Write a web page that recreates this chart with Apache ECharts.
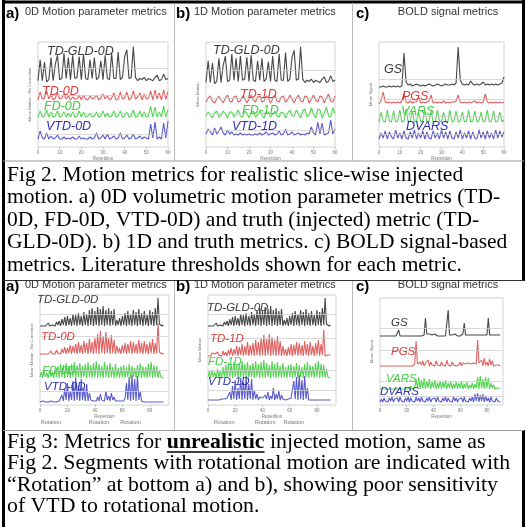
<!DOCTYPE html>
<html><head><meta charset="utf-8">
<script src="https://cdn.jsdelivr.net/npm/echarts@6/dist/echarts.min.js"></script>
<style>html,body{margin:0;padding:0;background:#fff}#c{width:527px;height:527px}</style>
</head><body><div id="c"></div><script>
// ---------- tick labels ----------
const X_TICKS_F2 = [0,10,20,30,40,50,60];
const X_TICKS_F3 = [0,20,40,60,80];
// ---------- Fig 2 (realistic motion), repetitions 0..60 ----------
const F2_TD_GLD_0D = [3,22,3,20,2,4,24,3,18,26,4,5,28,5,24,4,26,5,6,25,4,27,5,4,22,5,24,4,6,21,4,26,5,4,28,5,5,29,4,6,25,31,5,6,34,6,3,5,4,6,3,5,4,3,6,8,3,4,9,4,5];
const F2_TD_0D  = [1,9,2,3,10,2,6,1,3,8,2,3,7,2,5,1,4,2,2,6,1,6,2,1,5,2,3,6,1,3,7,2,5,1,3,8,1,2,9,2,3,9,1,3,10,2,4,8,1,7,2,3,10,1,11,2,8,1,11,2,9];
const F2_FD_0D  = [2,8,2,3,9,2,7,2,3,8,2,3,7,2,6,2,7,2,3,8,2,7,2,3,6,2,3,7,2,3,8,2,6,2,3,8,2,3,8,2,3,7,2,3,9,2,3,8,2,7,2,3,13,2,12,2,7,2,13,2,9];
const F2_VTD_0D = [2,10,3,2,8,2,5,2,3,6,2,2,4,2,3,2,4,2,2,5,2,3,2,2,4,2,3,8,2,3,6,2,7,2,3,5,2,3,8,2,3,6,2,3,7,2,3,5,2,4,3,2,17,3,19,2,4,2,18,3,20];
const F2_TD_1D  = [2,6,8,3,1,5,8,4,1,6,9,3,2,7,8,2,3,8,6,1,5,9,4,2,7,8,2,3,8,6,1,5,9,3,2,7,8,2,4,9,5,1,6,9,3,2,8,7,1,5,9,4,2,8,7,1,6,10,3,2,8];
const F2_FD_1D  = [3,7,4,1,6,8,2,4,8,5,1,7,7,2,5,9,3,2,8,6,1,6,8,2,4,8,4,1,7,7,2,5,8,3,2,7,6,1,6,9,3,3,9,5,1,8,10,2,4,11,5,1,10,9,1,6,12,3,2,11,6];
const F2_VTD_1D = [3,8,5,2,9,3,6,10,4,2,7,3,5,2,3,2,4,2,3,2,3,2,2,3,2,4,2,3,5,2,3,4,2,3,6,2,3,8,2,3,5,2,3,4,2,3,2,4,3,10,4,2,15,3,14,2,3,4,17,3,8];
const F2_GS     = [1,1,2,1,1,2,1,2,1,2,1,2,35,6,3,4,2,3,4,3,2,3,2,3,4,3,2,3,4,3,2,3,4,3,3,4,3,5,41,8,4,3,4,3,7,4,3,4,3,4,6,3,4,3,4,3,4,3,4,5,11];
const F2_PGS    = [1,4,13,3,2,3,2,3,2,3,2,4,12,3,2,4,2,3,3,8,2,3,2,3,4,10,2,3,2,3,2,4,2,3,2,3,3,4,10,3,2,3,2,3,2,3,4,2,3,2,3,11,3,2,3,2,3,2,3,2,3];
const F2_VARS   = [2,12,3,2,14,3,2,13,2,3,14,2,3,15,2,3,13,2,3,12,2,3,14,2,3,13,2,2,14,3,2,12,3,2,14,2,3,13,2,3,12,2,3,14,2,3,13,2,3,12,2,3,14,2,3,13,2,3,12,2,4];
const F2_DVARS  = [2,8,3,10,2,9,4,2,11,3,8,2,10,3,2,9,3,11,2,8,3,10,2,9,3,2,10,3,8,2,11,3,9,2,10,3,2,9,3,11,2,8,3,10,2,9,3,2,11,3,9,2,10,3,8,2,11,3,10,4,9];
// ---------- Fig 3 (unrealistic motion), repetitions 0..90 ----------
const F3_TD_GLD_0D = [2,3,2,4,2,3,5,2,4,3,5,2,6,3,7, 2,9,3,11,2,12,3,10,2,14,3,13,2,15,3,12,2,16,3,14, 2,18,3,20,2,17,3,21,2,19,3,22,2,18,3,20,2,17,3,19,2,8,3,10,2, 12,3,15,2,17,3,14,2,18,3,16,2,19,3,15,2,17,3,13,2,18,3,16,2,20,3,30,4,3,2,3];
const F3_TD_0D  = [2,3,2,3,2,4,2,3,5,2,4,2,6,3,5, 2,7,3,9,2,8,3,11,2,10,3,12,2,14,3,11,2,15,3,13, 2,17,3,14,2,18,3,22,2,25,3,20,2,24,3,18,2,21,3,16,2,10,3,8,2, 11,3,13,2,12,3,15,2,14,3,12,2,16,3,13,2,15,3,12,2,14,3,17,2,13,3,33,4,3,2,3];
const F3_FD_0D  = [3,8,2,9,3,7,2,10,3,8,2,12,3,14,2, 16,3,15,2,17,3,14,2,16,3,18,2,15,3,17,2,14,3,16,2, 18,3,15,2,17,3,19,2,16,3,14,2,18,3,15,2,17,3,13,2,16,3,12,2,14, 3,15,2,13,3,16,2,14,3,12,2,15,3,17,2,14,3,13,2,16,3,18,2,15,3,14,2,10,3,4,2];
const F3_VTD_0D = [1,1,2,1,1,2,1,1,2,1,1,2,1,1,2, 2,8,2,14,3,20,2,12,3,22,2,25,3,18,2,24,3,15,2,19, 2,10,3,4,2,3,2,6,2,9,3,5,2,12,3,7,2,10,3,6,2,4,2,3,2, 3,2,5,20,3,26,2,28,3,24,2,27,3,12,2,2,1,2,1,2,1,2,1,2,1,2,1,2,1,2,1];
const F3_TD_1D  = [2,4,2,5,3,4,2,6,3,5,2,7,3,6,2, 8,3,10,2,9,3,12,2,11,3,14,2,12,3,16,2,13,3,15,2, 18,3,16,2,20,3,23,2,19,3,24,2,21,3,18,2,22,3,17,2,12,3,9,2,11, 3,14,2,13,3,16,2,15,3,13,2,17,3,14,2,16,3,12,2,15,3,18,2,14,3,28,2,4,3,2,3];
const F3_FD_1D  = [3,9,2,10,3,8,2,11,3,9,2,13,3,15,2, 17,3,16,2,18,3,15,2,17,3,19,2,16,3,18,2,15,3,17,2, 19,3,16,2,18,3,20,2,17,3,15,2,19,3,16,2,18,3,14,2,17,3,13,2,15, 3,16,2,14,3,17,2,15,3,13,2,16,3,18,2,15,3,14,2,17,3,19,2,16,3,15,2,11,3,5,2];
const F3_VTD_1D = [2,3,2,3,2,4,2,3,2,4,3,2,3,2,4, 3,10,2,16,3,22,2,14,3,24,2,20,3,26,2,18,3,23,2,12, 3,8,2,5,3,4,2,7,3,10,2,6,3,14,2,8,3,11,2,7,3,5,2,4,3, 2,4,6,21,3,25,2,27,3,22,2,26,3,14,2,4,2,3,2,3,2,3,2,3,2,4,2,3,2,3,2];
const F3_GS     = [2,1,2,1,2,1,2,1,2,1,2,1,2,3,8,2,1,2,1,2,1,2,1,2,1,2,1,2,1,2,1,2,2,3,20,4,3,4,2,3,2,4,6,2,3,2,3,2,3,2,4,28,3,2,3,2,4,6,2,3,2,3,4,15,3,2,3,2,3,2,3,2,3,2,3,2,3,2,3,2,3,20,3,2,3,2,3,2,3,2,3];
const F3_PGS    = [2,3,2,3,2,3,2,3,2,3,2,3,2,3,2,3,2,3,2,3,2,3,2,3,2,3,4,27,4,3,6,3,7,2,5,3,8,2,6,3,5,2,7,3,4,2,6,3,5,2,8,3,4,2,6,3,5,2,4,3,6,2,5,3,4,2,5,3,4,2,5,3,4,28,5,3,8,2,10,3,6,2,9,3,7,2,4,3,2,3,2];
const F3_VARS   = [2,3,2,4,2,3,2,4,2,3,2,4,2,3,2,4,2,3,2,4,2,3,2,5,2,4,3,12,3,14,2,11,3,13,2,10,3,12,2,9,3,11,2,8,3,10,2,9,3,11,2,8,3,10,2,7,3,9,2,8,3,10,2,7,3,9,2,6,3,8,2,7,3,14,2,15,3,12,2,14,3,13,2,8,3,6,2,4,3,2,3];
const F3_DVARS  = [2,5,2,6,3,5,2,6,3,7,2,5,3,6,2,7,3,5,2,6,3,7,2,6,3,5,2,7,3,6,2,7,3,5,2,6,3,7,2,5,3,6,2,7,3,5,2,6,3,7,2,6,3,5,2,7,3,6,2,5,3,6,2,7,3,5,2,6,3,7,2,10,3,11,2,9,3,10,2,8,3,6,2,7,3,5,2,6,3,5,2];
// rotation segments (repetition at label centre)
const ROT_A = [8,43,66];
const ROT_B = [12,42,63];
// ---------- texts ----------
const PANEL_LETTERS = ['a)','b)','c)'];
const PANEL_TITLES = ['0D Motion parameter metrics','1D Motion parameter metrics','BOLD signal metrics'];
const Y_NAMES = ['Mean Motion - No Correction','Mean Motion','Mean Signal'];
const CAP2 = ['Fig 2. Motion metrics for realistic slice-wise injected',
 'motion. a) 0D volumetric motion parameter metrics (TD-',
 '0D, FD-0D, VTD-0D) and truth (injected) metric (TD-',
 'GLD-0D). b) 1D and truth metrics. c) BOLD signal-based',
 'metrics. Literature thresholds shown for each metric.'];
const CAP3_FIRST = ['Fig 3: Metrics for ','unrealistic',' injected motion, same as'];
const CAP3 = ['Fig 2. Segments with rotational motion are indicated with',
 '\u201cRotation\u201d at bottom a) and b), showing poor sensitivity',
 'of VTD to rotational motion.'];

// ---------- layout ----------
const BLK='#474747', RED='#e06060', GRN='#52d452', BLU='#5a5ad0';
const LBLK='#3a3a3a', LRED='#e03a3a', LGRN='#44cc44', LBLU='#2f2fb0';
const PANELS = [
 {l:38,r:168,t:42,b:147,xmax:60,ticks:X_TICKS_F2,yn:0},
 {l:206,r:335,t:42,b:147,xmax:60,ticks:X_TICKS_F2,yn:1},
 {l:379,r:504,t:42,b:147,xmax:60,ticks:X_TICKS_F2,yn:2},
 {l:40,r:169,t:295,b:405,xmax:94,ticks:X_TICKS_F3,yn:0},
 {l:208,r:336,t:295,b:405,xmax:94,ticks:X_TICKS_F3,yn:1},
 {l:380,r:503,t:298,b:405,xmax:92,ticks:X_TICKS_F3,yn:2}
];
const SERIES = [
 {p:0,d:F2_TD_GLD_0D,c:BLK,base:84,k:1.1,thr:14},
 {p:0,d:F2_TD_0D,c:RED,base:101,k:1,thr:6},
 {p:0,d:F2_FD_0D,c:GRN,base:119,k:1,thr:6},
 {p:0,d:F2_VTD_0D,c:BLU,base:141,k:1,thr:7},
 {p:1,d:F2_TD_GLD_0D,c:BLK,base:86,k:1.15,thr:14},
 {p:1,d:F2_TD_1D,c:RED,base:104,k:1,thr:6},
 {p:1,d:F2_FD_1D,c:GRN,base:119,k:1,thr:6},
 {p:1,d:F2_VTD_1D,c:BLU,base:137,k:1,thr:7},
 {p:2,d:F2_GS,c:BLK,base:88,k:1,thr:9},
 {p:2,d:F2_PGS,c:RED,base:105,k:1,thr:6},
 {p:2,d:F2_VARS,c:GRN,base:124,k:1,thr:8},
 {p:2,d:F2_DVARS,c:BLU,base:141,k:1,thr:7},
 {p:3,d:F3_TD_GLD_0D,c:BLK,base:328,k:1,thr:14},
 {p:3,d:F3_TD_0D,c:RED,base:356,k:1,thr:20},
 {p:3,d:F3_FD_0D,c:GRN,base:380,k:1,thr:10},
 {p:3,d:F3_VTD_0D,c:BLU,base:403,k:1,thr:12},
 {p:4,d:F3_TD_GLD_0D,c:BLK,base:328,k:1,thr:14},
 {p:4,d:F3_TD_1D,c:RED,base:358,k:1,thr:20},
 {p:4,d:F3_FD_1D,c:GRN,base:380,k:1,thr:10},
 {p:4,d:F3_VTD_1D,c:BLU,base:402,k:1,thr:12},
 {p:5,d:F3_GS,c:BLK,base:338,k:1,thr:10},
 {p:5,d:F3_PGS,c:RED,base:368,k:1,thr:18},
 {p:5,d:F3_VARS,c:GRN,base:391,k:1,thr:10},
 {p:5,d:F3_DVARS,c:BLU,base:404,k:1,thr:8}
];
const LABELS = [
 ['TD-GLD-0D',47,52,LBLK,12.5],['TD-0D',42,92,LRED,12.5],['FD-0D',44,107,LGRN,12.5],['VTD-0D',46,127,LBLU,12.5],
 ['TD-GLD-0D',213,51,LBLK,12.5],['TD-1D',240,95,LRED,12.5],['FD-1D',242,111,LGRN,12.5],['VTD-1D',232,127,LBLU,12.5],
 ['GS',384,70,LBLK,12.5],['PGS',402,97,LRED,12.5],['VARS',401,112,LGRN,12.5],['DVARS',406,127,LBLU,12.5],
 ['TD-GLD-0D',37,300,LBLK,11.5],['TD-0D',41,337,LRED,11.5],['FD-0D',42,371,LGRN,11.5],['VTD-0D',44,387,LBLU,11.5],
 ['TD-GLD-0D',207,308,LBLK,11.5],['TD-1D',210,339,LRED,11.5],['FD-1D',208,362,LGRN,11.5],['VTD-1D',208,382,LBLU,11.5],
 ['GS',391,323,LBLK,11.5],['PGS',391,352,LRED,11.5],['VARS',386,379,LGRN,11.5],['DVARS',380,392,LBLU,11.5]
];

const chart = echarts.init(document.getElementById('c'), null, {renderer:'canvas', width:527, height:527});
const SANS = '"Liberation Sans", Arial, sans-serif';
const SERIF = '"Liberation Serif", "Times New Roman", serif';

const option = {
 backgroundColor:'#fff',
 animation:false,
 grid: PANELS.map(P=>({left:P.l, top:P.t, width:P.r-P.l, height:P.b-P.t, show:true, borderColor:'#c8c8c8', borderWidth:0.8, backgroundColor:'transparent'})),
 xAxis: PANELS.map((P,i)=>({type:'value', gridIndex:i, min:0, max:P.xmax,
   axisLine:{show:false}, splitLine:{show:false},
   axisTick:{show:true, length:2, lineStyle:{color:'#999',width:0.6}, customValues:P.ticks},
   axisLabel:{fontSize:4.5, color:'#777', margin:3, fontFamily:SANS, customValues:P.ticks},
   name:'Repetition', nameLocation:'middle', nameGap:9, nameTextStyle:{fontSize:4.5,color:'#777',fontFamily:SANS}})),
 yAxis: PANELS.map((P,i)=>({type:'value', gridIndex:i, min:0, max:P.b-P.t,
   axisLine:{show:false}, splitLine:{show:false}, axisTick:{show:false}, axisLabel:{show:false},
   name:Y_NAMES[P.yn], nameLocation:'middle', nameGap:6, nameRotate:90,
   nameTextStyle:{fontSize:4.2,color:'#777',fontFamily:SANS}})),
 series: SERIES.map(s=>{
   const P = PANELS[s.p]; const off = P.b - s.base;
   return {type:'line', xAxisIndex:s.p, yAxisIndex:s.p, silent:true, animation:false,
     data: s.d.map((v,i)=>[i, off + v*s.k]), showSymbol:false, symbol:'none',
     lineStyle:{width:1.1, color:s.c}, itemStyle:{color:s.c}, z:3,
     markLine:{silent:true, symbol:'none', label:{show:false}, animation:false,
       lineStyle:{color:'#cfcfcf', width:0.8, type:'solid'}, data:[{yAxis: off + s.thr*s.k}]}};
 })
};
chart.setOption(option);

// ---------- graphic overlay ----------
const g = [];
const line = (x1,y1,x2,y2,c,w)=>g.push({type:'line', shape:{x1,y1,x2,y2}, style:{stroke:c, lineWidth:w}, z:50, silent:true});
const text = (t,x,y,font,fill,align)=>g.push({type:'text', x, y, z:60, silent:true, style:{text:t, font, fill, align:align||'left', verticalAlign:'middle'}});

// borders & separators
line(3.5,0,3.5,527,'#000',3);
line(2,2,525,2,'#000',3);
line(523.5,0,523.5,281,'#000',3);
line(523.5,430,523.5,527,'#000',3);
line(3,161,524,161,'#999',1);
line(3,280.5,524,280.5,'#333',1);
line(3,430.5,524,430.5,'#999',1);
// panel dividers
[174.5,352.5].forEach(x=>{ line(x,3,x,161,'#bbb',1); line(x,281,x,430,'#bbb',1); });

// panel titles
const LX = [6,176,356];
const TXX = [25,194,null];
[14,287].forEach(y=>{
  for (let i=0;i<3;i++){
    text(PANEL_LETTERS[i], LX[i], y, 'bold 15px '+SANS, '#000');
    if (i<2) text(PANEL_TITLES[i], TXX[i], y-2, '11px '+SANS, '#333');
    else text(PANEL_TITLES[i], 448, y-2, '11px '+SANS, '#333', 'center');
  }
});

// trace labels
LABELS.forEach(L=>text(L[0], L[1], L[2], 'italic '+L[4]+'px '+SANS, L[3]));

// rotation labels
[[3,ROT_A],[4,ROT_B]].forEach(([p,arr])=>{
  arr.forEach(r=>{
    const x = chart.convertToPixel({xAxisIndex:p}, r);
    text('Rotation', x, 422, '5.5px '+SANS, '#777', 'center');
  });
});

// captions
const F2C = '21.5px '+SERIF, F3C = '21.8px '+SERIF, B3C = 'bold 21.8px '+SERIF;
CAP2.forEach((t,i)=>text(t, 7, 175 + i*22.5, F2C, '#000'));
const ctx = document.createElement('canvas').getContext('2d');
ctx.font = F3C; const w1 = ctx.measureText(CAP3_FIRST[0]).width;
ctx.font = B3C; const w2 = ctx.measureText(CAP3_FIRST[1]).width;
text(CAP3_FIRST[0], 7, 442, F3C, '#000');
text(CAP3_FIRST[1], 7+w1, 442, B3C, '#000');
text(CAP3_FIRST[2], 7+w1+w2, 442, F3C, '#000');
line(7+w1, 452, 7+w1+w2, 452, '#000', 1.4);
CAP3.forEach((t,i)=>text(t, 7, 463.5 + i*21.5, F3C, '#000'));

chart.setOption({graphic: g});
</script></body></html>
